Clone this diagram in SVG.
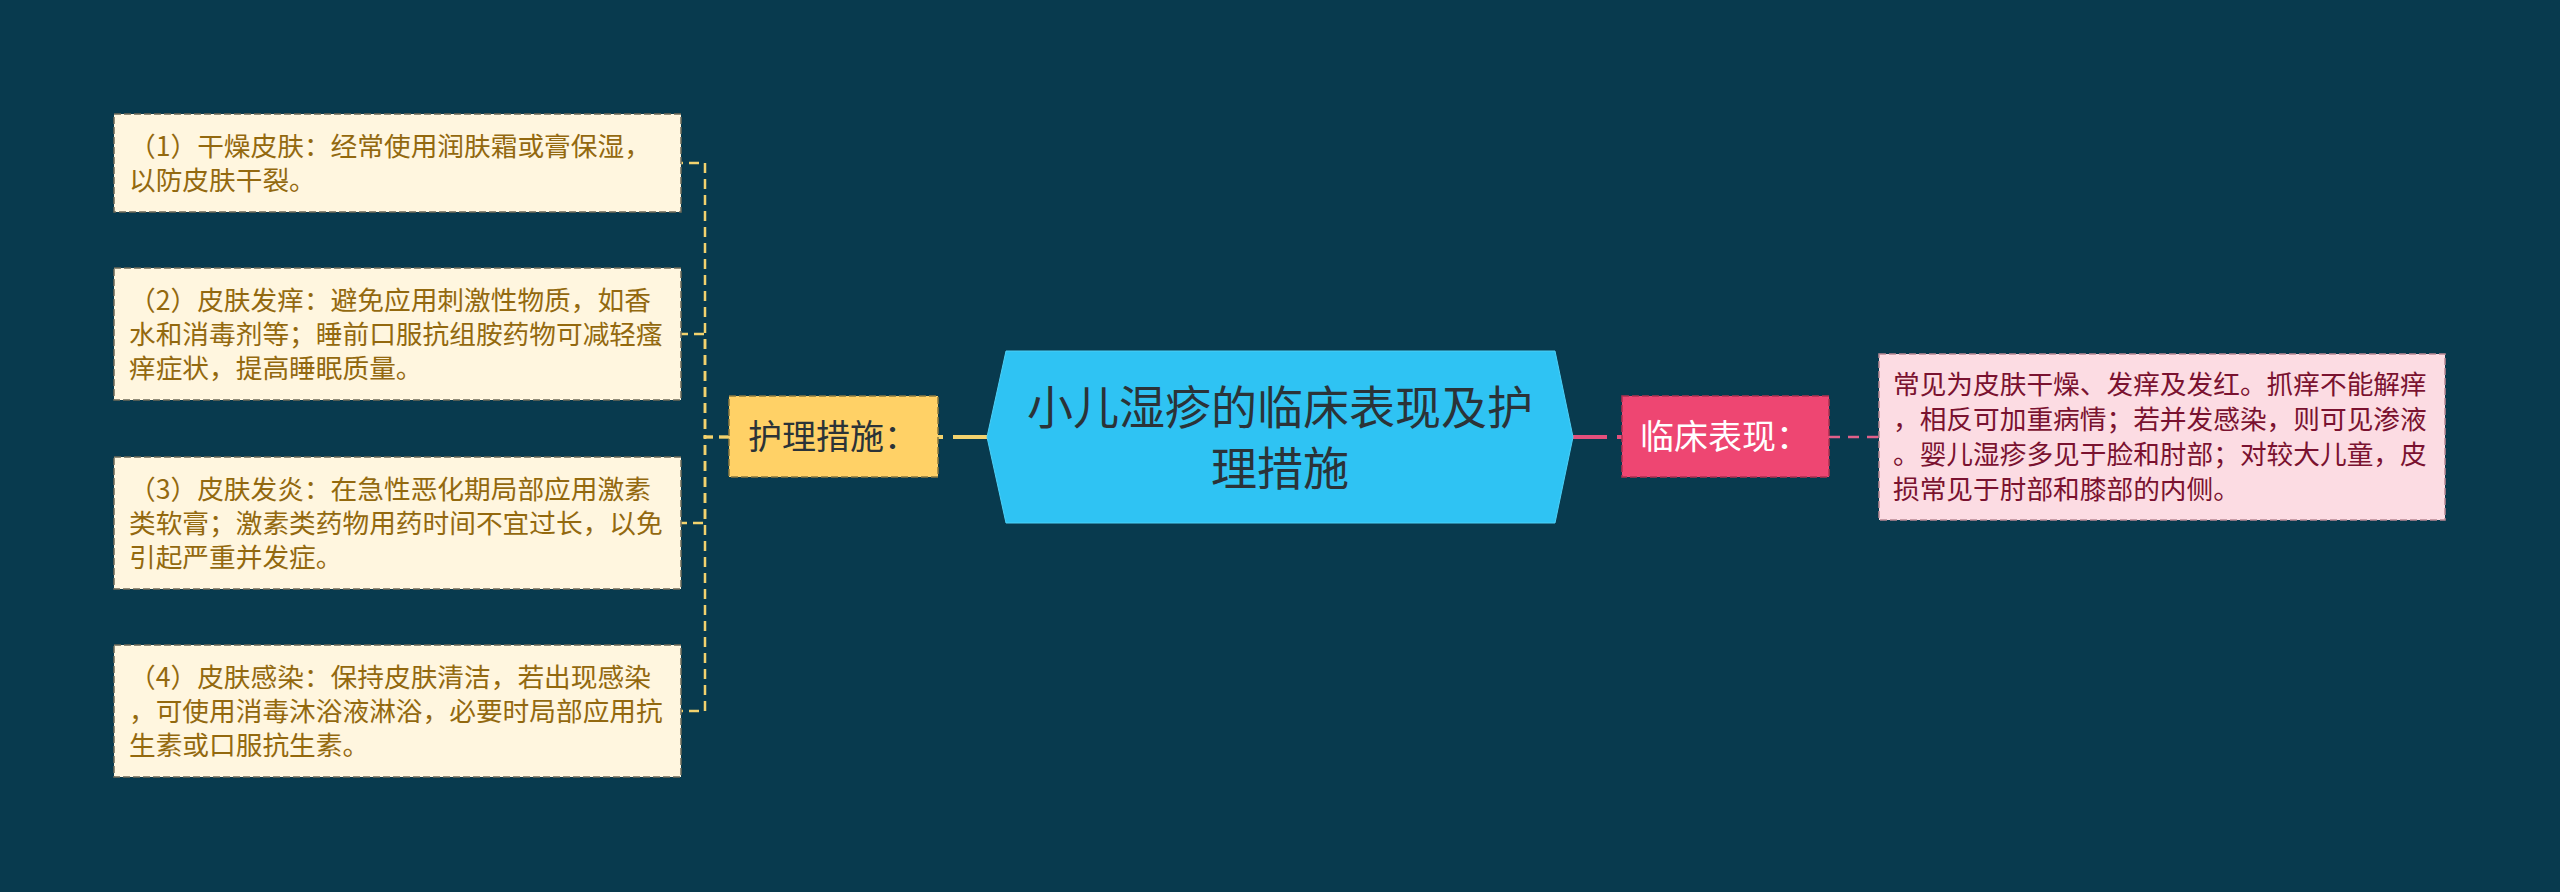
<svg xmlns="http://www.w3.org/2000/svg" width="2560" height="892" viewBox="0 0 2560 892">
<style>
.t{font-family:"Microsoft YaHei","Noto Sans CJK SC","Noto Sans",sans-serif;}
.leaf{fill:#FFF6DF;stroke:#6e6a58;stroke-width:1.5;stroke-dasharray:7 3;}
.lt{font-size:26.7px;fill:#93690f;}
.rt{font-size:26.7px;fill:#7a1230;}
.yc{fill:none;stroke:#f2d26e;stroke-width:2.5;stroke-dasharray:10 6;}
</style>
<rect x="0" y="0" width="2560" height="892" fill="#083A4E"/>
<g id="connectors">
  <path d="M987,437 H938" fill="none" stroke="#f2d26e" stroke-width="4" stroke-dasharray="34 10"/>
  <path d="M1573,437 H1622" fill="none" stroke="#e44f7c" stroke-width="4" stroke-dasharray="34 10"/>
  <path d="M1829,437 H1879" fill="none" stroke="#e0608a" stroke-width="2.5" stroke-dasharray="11 8"/>
  <path class="yc" d="M729,437 H705 V163 H681"/>
  <path class="yc" d="M729,437 H705 V334 H681"/>
  <path class="yc" d="M729,437 H705 V523 H681"/>
  <path class="yc" d="M729,437 H705 V711 H681"/>
</g>
<g id="root">
  <polygon points="987,437 1006,351 1555,351 1573,437 1555,523 1006,523" fill="#2FC3F3" stroke="#4dd0f7" stroke-width="1"/>
  <text class="t" x="1280" y="424" font-size="46" fill="#2b3338" text-anchor="middle">小儿湿疹的临床表现及护</text>
  <text class="t" x="1280" y="485" font-size="46" fill="#2b3338" text-anchor="middle">理措施</text>
</g>
<g id="care">
  <rect x="729" y="396" width="209" height="81" fill="#FFD166" stroke="#8a7a40" stroke-width="1.5" stroke-dasharray="7 3"/>
  <text class="t" x="748" y="449" font-size="34" fill="#2b3338">护理措施：</text>
</g>
<g id="clinical">
  <rect x="1622" y="396" width="207" height="81" fill="#EE4672" stroke="#b0304f" stroke-width="1.5" stroke-dasharray="7 3"/>
  <text class="t" x="1640" y="449" font-size="34" fill="#ffffff">临床表现：</text>
</g>
<g id="leaf1">
  <rect class="leaf" x="114" y="114" width="567" height="98"/>
  <text class="t lt" x="129" y="156">（1）干燥皮肤：经常使用润肤霜或膏保湿，</text>
  <text class="t lt" x="129" y="190">以防皮肤干裂。</text>
</g>
<g id="leaf2">
  <rect class="leaf" x="114" y="268" width="567" height="132"/>
  <text class="t lt" x="129" y="310">（2）皮肤发痒：避免应用刺激性物质，如香</text>
  <text class="t lt" x="129" y="344">水和消毒剂等；睡前口服抗组胺药物可减轻瘙</text>
  <text class="t lt" x="129" y="378">痒症状，提高睡眠质量。</text>
</g>
<g id="leaf3">
  <rect class="leaf" x="114" y="457" width="567" height="132"/>
  <text class="t lt" x="129" y="499">（3）皮肤发炎：在急性恶化期局部应用激素</text>
  <text class="t lt" x="129" y="533">类软膏；激素类药物用药时间不宜过长，以免</text>
  <text class="t lt" x="129" y="567">引起严重并发症。</text>
</g>
<g id="leaf4">
  <rect class="leaf" x="114" y="645" width="567" height="132"/>
  <text class="t lt" x="129" y="687">（4）皮肤感染：保持皮肤清洁，若出现感染</text>
  <text class="t lt" x="129" y="721">，可使用消毒沐浴液淋浴，必要时局部应用抗</text>
  <text class="t lt" x="129" y="755">生素或口服抗生素。</text>
</g>
<g id="leaf5">
  <rect x="1879" y="354" width="566" height="166" fill="#FCDCE3" stroke="#b98894" stroke-width="1.5" stroke-dasharray="7 3"/>
  <text class="t rt" x="1893" y="394">常见为皮肤干燥、发痒及发红。抓痒不能解痒</text>
  <text class="t rt" x="1893" y="429">，相反可加重病情；若并发感染，则可见渗液</text>
  <text class="t rt" x="1893" y="464">。婴儿湿疹多见于脸和肘部；对较大儿童，皮</text>
  <text class="t rt" x="1893" y="499">损常见于肘部和膝部的内侧。</text>
</g>
</svg>
